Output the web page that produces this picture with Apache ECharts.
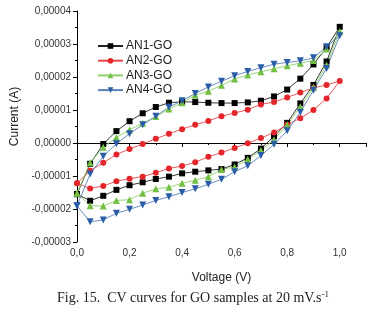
<!DOCTYPE html>
<html>
<head>
<meta charset="utf-8">
<script src="https://cdn.jsdelivr.net/npm/echarts@6/dist/echarts.min.js"></script>
<style>
  html, body { margin: 0; padding: 0; background: #fff; }
  #main { width: 377px; height: 313px; }
</style>
</head>
<body>
<div id="main"></div>
<script>
// voltage steps (V), same for every branch
const volts = [0, 0.05, 0.1, 0.15, 0.2, 0.25, 0.3, 0.35, 0.4, 0.45, 0.5,
               0.55, 0.6, 0.65, 0.7, 0.75, 0.8, 0.85, 0.9, 0.95, 1.0];

// current in units of 1e-5 A, lower branch and upper branch (both listed 0 -> 1 V)
const an1Low  = [-1.55,-1.75,-1.60,-1.42,-1.28,-1.19,-1.09,-1.02,-0.92,-0.87,-0.83,-0.79,-0.65,-0.45,-0.17,0.20,0.61,1.20,1.76,2.47,3.52];
const an1High = [-1.55,-0.63,-0.03,0.36,0.66,0.90,1.09,1.22,1.25,1.24,1.22,1.21,1.21,1.23,1.28,1.41,1.62,1.95,2.38,2.90,3.52];

const an2Low  = [-1.22,-1.38,-1.30,-1.16,-1.08,-1.02,-0.90,-0.77,-0.70,-0.58,-0.42,-0.29,-0.15,-0.01,0.15,0.32,0.55,0.75,1.00,1.35,1.88];
const an2High = [-1.22,-0.84,-0.60,-0.35,-0.18,-0.03,0.13,0.28,0.42,0.55,0.67,0.81,0.91,1.01,1.17,1.24,1.38,1.53,1.67,1.76,1.88];

const an3Low  = [-1.52,-1.90,-1.91,-1.74,-1.72,-1.52,-1.39,-1.34,-1.22,-1.13,-1.02,-0.80,-0.73,-0.49,-0.22,0.10,0.55,1.10,1.68,2.36,3.38];
const an3High = [-1.52,-0.60,-0.13,0.17,0.40,0.60,0.80,1.03,1.22,1.45,1.57,1.75,1.94,2.06,2.16,2.25,2.34,2.42,2.50,2.85,3.38];

const an4Low  = [-1.90,-2.39,-2.33,-2.13,-2.01,-1.88,-1.74,-1.63,-1.50,-1.39,-1.25,-1.10,-0.87,-0.69,-0.38,-0.04,0.37,0.93,1.60,2.26,3.25];
const an4High = [-1.90,-0.94,-0.40,-0.02,0.28,0.55,0.81,1.09,1.28,1.50,1.70,1.87,2.04,2.17,2.28,2.39,2.44,2.49,2.58,2.92,3.25];

const names = ['AN1-GO', 'AN2-GO', 'AN3-GO', 'AN4-GO'];

// closed CV loop: go up along the lower branch, come back along the upper one
function loop(low, high) {
  const pts = volts.map((v, i) => [v, low[i]]);
  for (let i = volts.length - 2; i >= 0; i--) pts.push([volts[i], high[i]]);
  return pts;
}

const fmt = (v, d) => v.toFixed(d).replace('.', ',');

const chart = echarts.init(document.getElementById('main'));

function line(name, low, high, symbol, size, color, lineColor, rotate) {
  return {
    name: name,
    type: 'line',
    data: loop(low, high),
    symbol: symbol,
    symbolSize: size,
    symbolRotate: rotate || 0,
    clip: false,
    itemStyle: { color: color },
    lineStyle: { color: lineColor, width: 0.9 },
    emphasis: { disabled: true }
  };
}

chart.setOption({
  animation: false,
  textStyle: { fontFamily: 'Liberation Sans, Arial, sans-serif' },
  grid: { left: 77, right: 11, top: 11, bottom: 71 },
  legend: {
    data: names,
    orient: 'vertical',
    left: 92,
    top: 34,
    itemWidth: 25,
    itemHeight: 7,
    itemGap: 0.7,
    textStyle: { fontSize: 12, color: '#222', lineHeight: 14, padding: [0, 0, 0, -2] }
  },
  xAxis: {
    type: 'value',
    min: 0, max: 1.1, interval: 0.2,
    name: 'Voltage (V)',
    nameLocation: 'middle',
    nameGap: 30,
    nameTextStyle: { fontSize: 12, color: '#222' },
    axisLine: { lineStyle: { color: '#000', width: 1 } },
    axisTick: { length: 4, lineStyle: { color: '#000' } },
    minorTick: { show: true, splitNumber: 2, length: 2, lineStyle: { color: '#000' } },
    splitLine: { show: false },
    axisLabel: { fontSize: 10, color: '#333', margin: 6, showMaxLabel: false,
                 formatter: v => fmt(v, 1) }
  },
  yAxis: {
    type: 'value',
    min: -3, max: 4, interval: 1,
    name: 'Current (A)',
    nameLocation: 'middle',
    nameGap: 55,
    nameTextStyle: { fontSize: 12, color: '#222', padding: [0, 0, 0, 20] },
    axisLine: { show: true, lineStyle: { color: '#000', width: 1 } },
    axisTick: { show: true, length: 4, lineStyle: { color: '#000' } },
    minorTick: { show: true, splitNumber: 2, length: 2, lineStyle: { color: '#000' } },
    splitLine: { show: false },
    axisLabel: { fontSize: 10, color: '#333', margin: 6,
                 formatter: v => fmt(v / 1e5, 5) }
  },
  graphic: [{
    type: 'text',
    left: 57,
    top: 290,
    style: {
      text: '{a|Fig. 15.  CV curves for GO samples at 20 mV.s}{s|-1}',
      rich: {
        a: { fontFamily: 'Liberation Serif, Times New Roman, serif', fontSize: 14, fill: '#222', lineHeight: 16 },
        s: { fontFamily: 'Liberation Serif, Times New Roman, serif', fontSize: 9, fill: '#222', verticalAlign: 'top', lineHeight: 16, padding: [0, 0, 7, 0] }
      }
    }
  }],
  series: [
    line(names[0], an1Low, an1High, 'rect', 6, '#000000', '#222222'),
    line(names[1], an2Low, an2High, 'circle', 6, '#e3262b', '#e3474b'),
    line(names[2], an3Low, an3High, 'triangle', 7, '#72bf44', '#8fd06a'),
    line(names[3], an4Low, an4High, 'triangle', 7, '#2b5ca8', '#5b80b8', 180)
  ]
});
</script>
</body>
</html>
